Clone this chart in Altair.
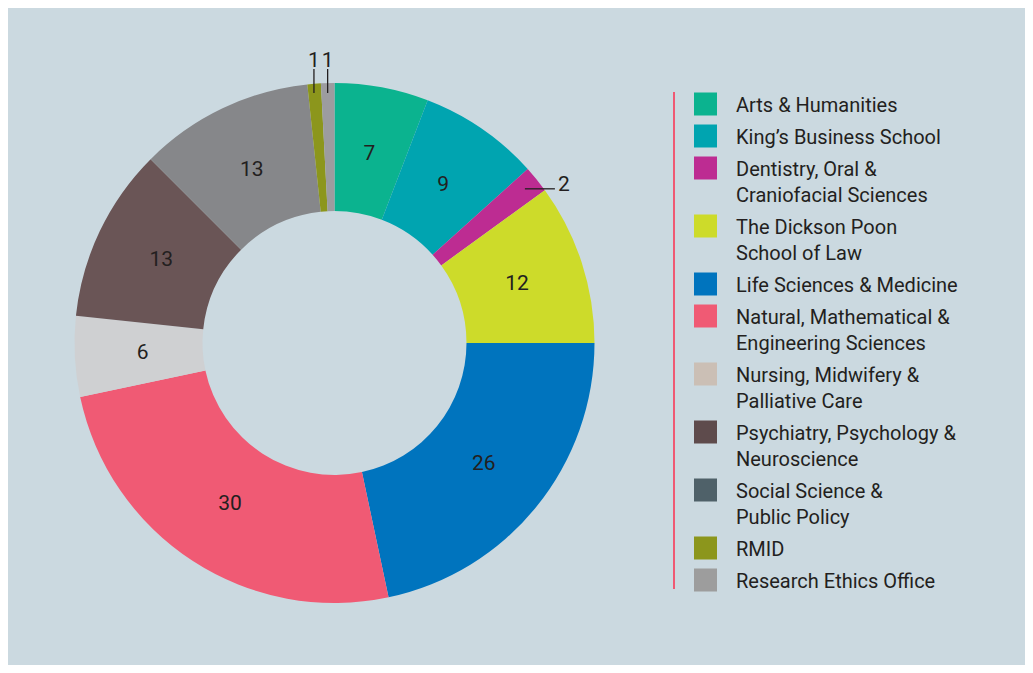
import math
import altair as alt
import pandas as pd

# ---- data ----
categories = [
    "Arts & Humanities",
    "King's Business School",
    "Dentistry, Oral & Craniofacial Sciences",
    "The Dickson Poon School of Law",
    "Life Sciences & Medicine",
    "Natural, Mathematical & Engineering Sciences",
    "Nursing, Midwifery & Palliative Care",
    "Psychiatry, Psychology & Neuroscience",
    "Social Science & Public Policy",
    "RMID",
    "Research Ethics Office",
]
legend_labels = [
    "Arts & Humanities",
    "King\u2019s Business School",
    "Dentistry, Oral &\nCraniofacial Sciences",
    "The Dickson Poon\nSchool of Law",
    "Life Sciences & Medicine",
    "Natural, Mathematical &\nEngineering Sciences",
    "Nursing, Midwifery &\nPalliative Care",
    "Psychiatry, Psychology &\nNeuroscience",
    "Social Science &\nPublic Policy",
    "RMID",
    "Research Ethics Office",
]
values = [7, 9, 2, 12, 26, 30, 6, 13, 13, 1, 1]

# ---- styles ----
slice_colors = ["#0bb38f", "#00a4b0", "#bd2c92", "#cddb2a", "#0074be", "#f05a74",
                "#cfd0d2", "#6a5556", "#86878a", "#8c961c", "#9c9c9f"]
legend_colors = ["#0bb38f", "#00a4b0", "#bd2c92", "#cddb2a", "#0074be", "#f05a74",
                 "#cbbfb5", "#5e4b4c", "#4f6169", "#8c961c", "#9d9d9d"]
BG = "#cbd9e0"
INK = "#231f20"
FONT = "Roboto"
LEG_FS = 20
NUM_FS = 21
W, H = 1017, 657
CX, CY = 326.5, 335
R_IN, R_OUT, R_LAB = 132, 260, 192

# ---- tables ----
df = pd.DataFrame({"cat": categories, "value": values, "idx": range(len(values))})
df["label"] = [str(v) if v > 2 else "" for v in values]

total = sum(values)
cum = 0
call_rows, rule_rows = [], []
for c, v in zip(categories, values):
    a = (cum + v / 2) / total * 2 * math.pi
    cum += v
    if v > 2:
        continue
    if abs(math.sin(a)) < 0.2 and math.cos(a) > 0:
        x = CX + 262 * math.sin(a)
        rule_rows.append({"x": x, "x2": x, "y": CY - 274, "y2": CY - 250})
        call_rows.append({"x": x, "y": CY - 276, "t": str(v), "align": "center"})
    else:
        x0 = CX + 245 * math.sin(a)
        y0 = CY - 245 * math.cos(a)
        rule_rows.append({"x": x0, "x2": x0 + 30, "y": y0, "y2": y0})
        call_rows.append({"x": x0 + 33, "y": y0 + 2, "t": str(v), "align": "left"})
df_rule = pd.DataFrame(rule_rows)
df_call = pd.DataFrame(call_rows)

leg_rows = []
extra = 0
for i, (c, lab) in enumerate(zip(categories, legend_labels)):
    yb = 104 + 26 * extra + 32 * i
    leg_rows.append({"cat": c, "label": lab, "yb": yb, "ys": yb - 8})
    extra += lab.count("\n")
df_leg = pd.DataFrame(leg_rows)

xs = alt.Scale(domain=[0, W], nice=False, zero=False)
ys = alt.Scale(domain=[0, H], nice=False, zero=False, reverse=True)

theta = alt.Theta("value:Q", stack=True)
order = alt.Order("idx:Q")

arcs = alt.Chart(df).mark_arc(innerRadius=R_IN, outerRadius=R_OUT).encode(
    theta=theta,
    order=order,
    color=alt.Color("cat:N", scale=alt.Scale(domain=categories, range=slice_colors), legend=None),
    x=alt.value(CX), y=alt.value(CY),
)
labels = alt.Chart(df).mark_text(radius=R_LAB, fontSize=NUM_FS, font=FONT, color=INK).encode(
    theta=theta, order=order, text="label:N",
    x=alt.value(CX), y=alt.value(CY),
)
rules = alt.Chart(df_rule).mark_rule(color=INK, strokeWidth=1.3).encode(
    x=alt.X("x:Q", scale=xs, axis=None), x2="x2:Q",
    y=alt.Y("y:Q", scale=ys, axis=None), y2="y2:Q",
)
call_c = alt.Chart(df_call[df_call["align"] == "center"]).mark_text(
    fontSize=NUM_FS, font=FONT, color=INK, align="center", baseline="alphabetic").encode(
    x=alt.X("x:Q", scale=xs, axis=None), y=alt.Y("y:Q", scale=ys, axis=None), text="t:N")
call_l = alt.Chart(df_call[df_call["align"] == "left"]).mark_text(
    fontSize=NUM_FS, font=FONT, color=INK, align="left", baseline="alphabetic").encode(
    x=alt.X("x:Q", scale=xs, axis=None), y=alt.Y("y:Q", scale=ys, axis=None), text="t:N")

sep = alt.Chart(df_leg).mark_rule(color="#f05a74", strokeWidth=1.3).encode(
    x=alt.value(666), y=alt.value(84), y2=alt.value(581))
squares = alt.Chart(df_leg).mark_square(size=529, opacity=1).encode(
    x=alt.value(697.5),
    y=alt.Y("ys:Q", scale=ys, axis=None),
    fill=alt.Fill("cat:N", scale=alt.Scale(domain=categories, range=legend_colors), legend=None),
)
leg_text = alt.Chart(df_leg).mark_text(
    align="left", baseline="alphabetic", fontSize=LEG_FS, font=FONT, color=INK,
    lineBreak="\n", lineHeight=26).encode(
    x=alt.value(728), y=alt.Y("yb:Q", scale=ys, axis=None), text="label:N")

chart = alt.layer(arcs, labels, rules, call_c, call_l, sep, squares, leg_text).resolve_scale(
    color="independent", fill="independent"
).properties(
    width=W, height=H, padding=0, autosize=alt.AutoSizeParams(type="none"),
    background=BG,
).configure_view(stroke=None)

chart.save("out.html", embed_options={"renderer": "svg", "actions": False})
